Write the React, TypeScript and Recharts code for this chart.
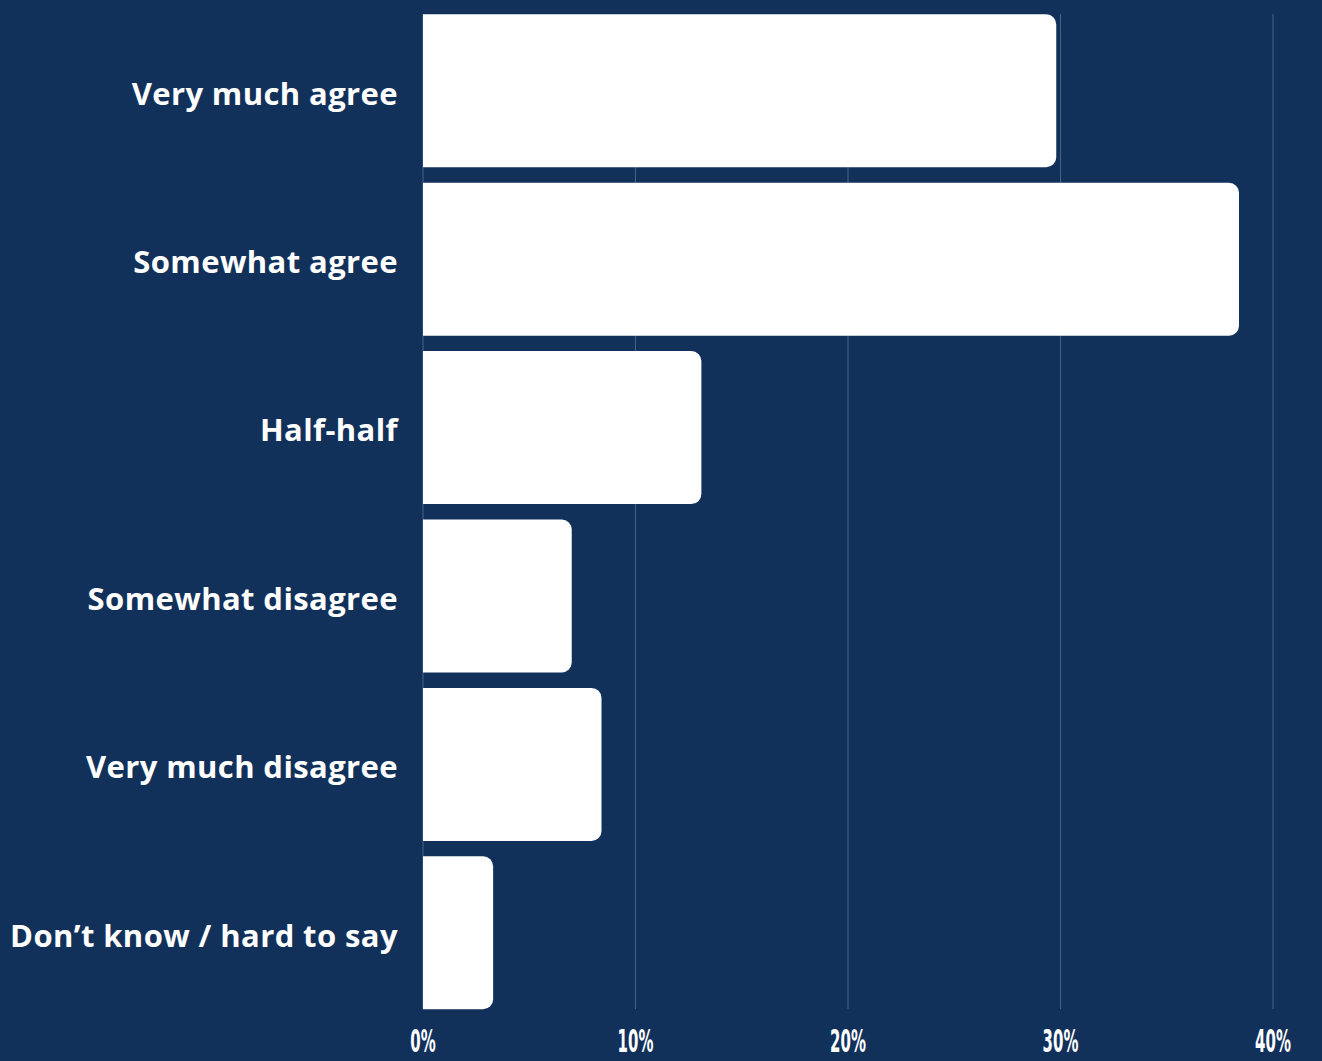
import { BarChart, Bar, XAxis, YAxis, CartesianGrid } from "recharts";

const categories = [
  "Very much agree",
  "Somewhat agree",
  "Half-half",
  "Somewhat disagree",
  "Very much disagree",
  "Don\u2019t know / hard to say",
];
const shares = [29.8, 38.4, 13.1, 7.0, 8.4, 3.3];
const xTicks = [0, 10, 20, 30, 40];

const data = categories.map((name, i) => ({ name, value: shares[i] }));

const BG = "#12315a";
const GRID = "#4b6383";
const HALF_GAP = 7.7;

// vertical grid lines stop at the outer bar edges, like the original
function GridLine(props: any) {
  const { x1, x2, y1, y2 } = props;
  return <line x1={x1} x2={x2} y1={y1 + HALF_GAP} y2={y2 - HALF_GAP} stroke={GRID} strokeWidth={1} />;
}

function PercentTick(props: any) {
  const { x, y, payload } = props;
  return (
    <text
      transform={`translate(${x},${y}) scale(0.52,1)`}
      textAnchor="middle"
      dy="0.71em"
      fill="#fff"
      fontSize={32}
      fontWeight={700}
      fontFamily="'Liberation Sans Narrow', 'DejaVu Sans Condensed', sans-serif"
    >
      {payload.value}%
    </text>
  );
}

export default function App() {
  return (
    <div style={{ position: "absolute", left: 0, top: 0, width: 1322, height: 1061, background: BG }}>
      <BarChart
        width={1322}
        height={1061}
        data={data}
        layout="vertical"
        margin={{ top: 14 - HALF_GAP, right: 49, bottom: 0, left: 0 }}
      >
        <CartesianGrid horizontal={false} vertical={(p: any) => <GridLine key={p.key ?? `${p.x1}`} {...p} />} />
        <XAxis
          type="number"
          domain={[0, 40]}
          ticks={xTicks}
          tick={<PercentTick />}
          tickLine={false}
          axisLine={false}
          tickSize={0}
          tickMargin={13}
          height={1061 - 1009 - HALF_GAP}
          interval={0}
        />
        <YAxis
          type="category"
          dataKey="name"
          width={423}
          tickLine={false}
          axisLine={false}
          tickSize={0}
          tickMargin={25}
          tick={{
            fill: "#fff",
            fontSize: 31,
            fontWeight: 700,
            letterSpacing: 0.4,
            dy: 3,
            fontFamily: "'Open Sans', sans-serif",
          }}
          interval={0}
        />
        <Bar dataKey="value" fill="#fff" barSize={153} radius={[0, 10, 10, 0]} isAnimationActive={false} />
      </BarChart>
    </div>
  );
}
